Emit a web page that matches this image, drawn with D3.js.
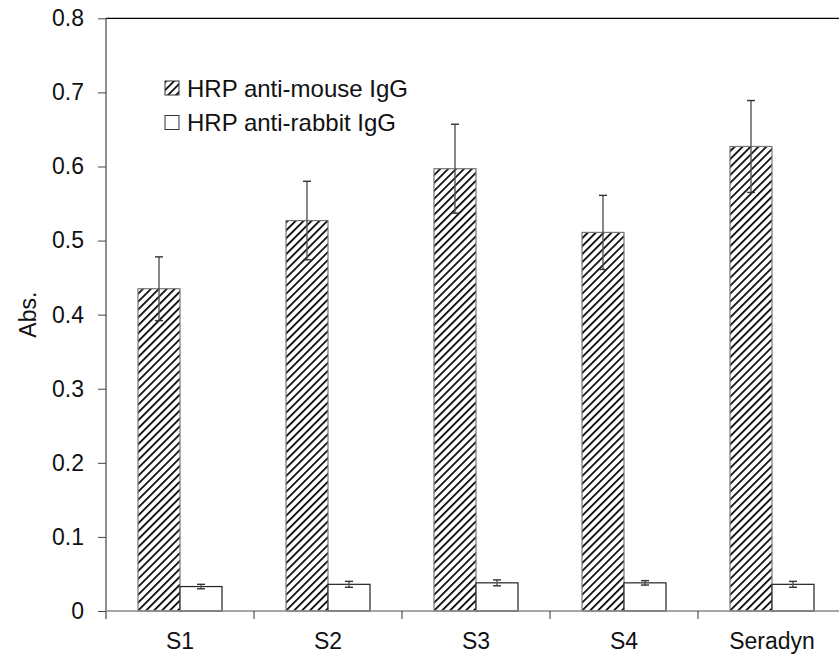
<!DOCTYPE html>
<html>
<head>
<meta charset="utf-8">
<script src="https://cdn.jsdelivr.net/npm/d3@7"></script>
<style>
  body { margin: 0; background: #fff; }
  text { font-family: "Liberation Sans", Arial, sans-serif; fill: #111; }
</style>
</head>
<body>
<div id="chart"></div>
<script>
// values
var categories = ['S1', 'S2', 'S3', 'S4', 'Seradyn'];
var seriesNames = ['HRP anti-mouse IgG', 'HRP anti-rabbit IgG'];
var mouseValues = [0.435, 0.527, 0.597, 0.511, 0.627];
var mouseErrors = [0.043, 0.053, 0.060, 0.050, 0.062];
var rabbitValues = [0.033, 0.036, 0.038, 0.038, 0.036];
var rabbitErrors = [0.003, 0.004, 0.004, 0.003, 0.004];
var yTicks = [0, 0.1, 0.2, 0.3, 0.4, 0.5, 0.6, 0.7, 0.8];

var W = 839, H = 665;
var fontSize = '23px';
var svg = d3.select('#chart').append('svg')
    .attr('width', W)
    .attr('height', H);

// hatch pattern, a bit heavier like the original
var defs = svg.append('defs');
var pat = defs.append('pattern')
    .attr('id', 'hatch')
    .attr('patternUnits', 'userSpaceOnUse')
    .attr('width', 5.6)
    .attr('height', 5.6)
    .attr('patternTransform', 'rotate(45)');
pat.append('rect').attr('width', 5.6).attr('height', 5.6).attr('fill', '#fff');
pat.append('line')
    .attr('x1', 0).attr('y1', 0).attr('x2', 0).attr('y2', 5.6)
    .attr('stroke', '#000').attr('stroke-width', 3.4);

// careful: "top" is taken by window.top
var plotLeft = 106, plotTop = 18.3, plotBottom = 611, plotRight = 846;

var yScale = d3.scaleLinear().domain([0, 0.8]).range([plotBottom, plotTop]);
var xScale = d3.scaleBand().domain(categories).range([plotLeft, plotRight]);
var subScale = d3.scaleBand().domain(seriesNames).range([32, xScale.bandwidth() - 32]);

var data = categories.map(function(c, i) {
  return [
    {cat: c, s: seriesNames[0], v: mouseValues[i], e: mouseErrors[i]},
    {cat: c, s: seriesNames[1], v: rabbitValues[i], e: rabbitErrors[i]}
  ];
});

// top frame line
svg.append('line')
    .attr('x1', plotLeft).attr('x2', W)
    .attr('y1', yScale(0.8)).attr('y2', yScale(0.8))
    .attr('stroke', '#000').attr('stroke-width', 1.3);

// bars
var groups = svg.selectAll('.grp')
    .data(data)
    .enter().append('g')
    .attr('class', 'grp')
    .attr('transform', function(d) { return 'translate(' + xScale(d[0].cat) + ',0)'; });

groups.selectAll('rect')
    .data(function(d) { return d; })
    .enter().append('rect')
    .attr('x', function(d) { return subScale(d.s); })
    .attr('y', function(d) { return yScale(d.v); })
    .attr('width', subScale.bandwidth())
    .attr('height', function(d) { return yScale(0) - yScale(d.v); })
    .attr('fill', function(d, i) { return i === 0 ? 'url(#hatch)' : '#fff'; })
    .attr('stroke', function(d, i) { return i === 0 ? '#777' : '#222'; })
    .attr('stroke-width', 1.2);

// error bars
var eb = groups.selectAll('.err')
    .data(function(d) { return d; })
    .enter().append('g')
    .attr('class', 'err')
    .attr('transform', function(d) { return 'translate(' + (subScale(d.s) + subScale.bandwidth() / 2) + ',0)'; });

eb.append('line')
    .attr('x1', 0).attr('x2', 0)
    .attr('y1', function(d) { return yScale(d.v + d.e); })
    .attr('y2', function(d) { return yScale(d.v - d.e); })
    .attr('stroke', '#555').attr('stroke-width', 1.4);
eb.append('line')
    .attr('x1', -4).attr('x2', 4)
    .attr('y1', function(d) { return yScale(d.v + d.e); })
    .attr('y2', function(d) { return yScale(d.v + d.e); })
    .attr('stroke', '#333').attr('stroke-width', 1.4);
eb.append('line')
    .attr('x1', -4).attr('x2', 4)
    .attr('y1', function(d) { return yScale(d.v - d.e); })
    .attr('y2', function(d) { return yScale(d.v - d.e); })
    .attr('stroke', '#333').attr('stroke-width', 1.4);

// y axis
var yAxis = d3.axisLeft(yScale)
    .tickValues(yTicks)
    .tickSize(8)
    .tickPadding(14)
    .tickFormat(d3.format(''));
var yg = svg.append('g')
    .attr('transform', 'translate(' + plotLeft + ',0)')
    .call(yAxis);
yg.select('.domain').remove();
yg.selectAll('.tick line').attr('stroke', '#444');
yg.selectAll('.tick text')
    .style('font-size', fontSize)
    .attr('fill', '#111');
yg.append('line')
    .attr('x1', 0).attr('x2', 0)
    .attr('y1', plotTop).attr('y2', plotBottom + 8)
    .attr('stroke', '#444').attr('stroke-width', 1.2);

// x axis: ticks between categories
var xAxis = d3.axisBottom(xScale).tickSize(0).tickPadding(22);
var xg = svg.append('g')
    .attr('transform', 'translate(0,' + plotBottom + ')')
    .call(xAxis);
xg.select('.domain').remove();
xg.append('line')
    .attr('x1', plotLeft).attr('x2', W)
    .attr('y1', 0).attr('y2', 0)
    .attr('stroke', '#888').attr('stroke-width', 1.3);
xg.selectAll('.sep')
    .data(categories.slice(1))
    .enter().append('line')
    .attr('class', 'sep')
    .attr('x1', function(d) { return xScale(d); })
    .attr('x2', function(d) { return xScale(d); })
    .attr('y1', 0).attr('y2', 8)
    .attr('stroke', '#333');
xg.selectAll('.tick text')
    .style('font-size', fontSize)
    .attr('fill', '#111');

// y label
svg.append('text')
    .attr('transform', 'translate(36,' + ((plotTop + plotBottom) / 2) + ') rotate(-90)')
    .attr('text-anchor', 'middle')
    .style('font-size', fontSize)
    .text('Abs.');

// legend
var legend = svg.append('g').attr('transform', 'translate(165,81)');
var li = legend.selectAll('g')
    .data(seriesNames)
    .enter().append('g')
    .attr('transform', function(d, i) { return 'translate(0,' + (i * 34.5) + ')'; });
li.append('rect')
    .attr('width', 14).attr('height', 14)
    .attr('fill', function(d, i) { return i === 0 ? 'url(#hatch)' : '#fff'; })
    .attr('stroke', '#333').attr('stroke-width', 1);
li.append('text')
    .attr('x', 22).attr('y', 7).attr('dy', '0.36em')
    .style('font-size', '24px')
    .text(function(d) { return d; });
</script>
</body>
</html>
